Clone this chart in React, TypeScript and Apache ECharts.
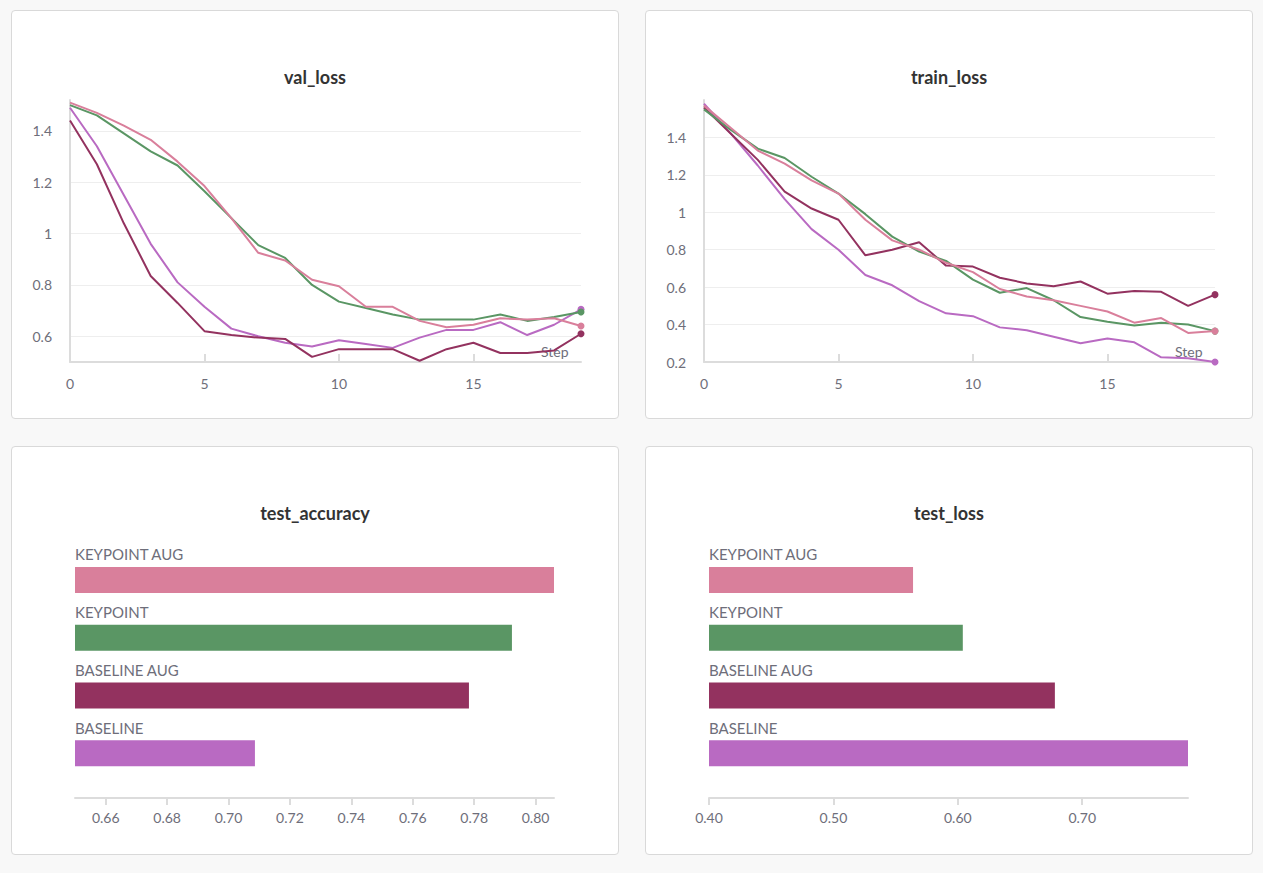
import * as echarts from "echarts";
import { useEffect, useRef } from "react";

const steps = Array.from({ length: 20 }, (_, i) => i);

const runNames = ["keypoint aug", "keypoint", "baseline aug", "baseline"];
const runColors = ["#d97f9b", "#5a9664", "#93325f", "#b96ac2"];

const valKeypointAug = [1.51, 1.47, 1.42, 1.365, 1.28, 1.185, 1.06, 0.925, 0.895, 0.82, 0.795, 0.715, 0.715, 0.66, 0.635, 0.645, 0.67, 0.665, 0.67, 0.64];
const valKeypoint = [1.5, 1.46, 1.39, 1.32, 1.265, 1.165, 1.06, 0.955, 0.905, 0.8, 0.735, 0.71, 0.685, 0.665, 0.665, 0.665, 0.685, 0.66, 0.675, 0.695];
const valBaselineAug = [1.44, 1.27, 1.04, 0.835, 0.73, 0.62, 0.605, 0.595, 0.59, 0.52, 0.55, 0.55, 0.55, 0.505, 0.55, 0.575, 0.535, 0.535, 0.545, 0.61];
const valBaseline = [1.49, 1.34, 1.15, 0.96, 0.81, 0.715, 0.63, 0.6, 0.575, 0.56, 0.585, 0.57, 0.555, 0.595, 0.625, 0.625, 0.655, 0.605, 0.645, 0.705];

const trainKeypointAug = [1.57, 1.45, 1.33, 1.26, 1.17, 1.1, 0.96, 0.85, 0.8, 0.73, 0.68, 0.59, 0.55, 0.53, 0.5, 0.47, 0.41, 0.435, 0.355, 0.365];
const trainKeypoint = [1.55, 1.44, 1.34, 1.29, 1.19, 1.1, 0.99, 0.87, 0.79, 0.74, 0.64, 0.57, 0.595, 0.53, 0.44, 0.415, 0.395, 0.41, 0.4, 0.365];
const trainBaselineAug = [1.56, 1.42, 1.28, 1.11, 1.02, 0.96, 0.77, 0.8, 0.84, 0.715, 0.71, 0.65, 0.62, 0.605, 0.63, 0.565, 0.58, 0.575, 0.5, 0.56];
const trainBaseline = [1.58, 1.42, 1.25, 1.07, 0.91, 0.8, 0.665, 0.61, 0.525, 0.46, 0.445, 0.385, 0.37, 0.335, 0.3, 0.325, 0.305, 0.225, 0.22, 0.2];

const barLabels = ["KEYPOINT AUG", "KEYPOINT", "BASELINE AUG", "BASELINE"];
const testAccuracy = [0.806, 0.7923, 0.7783, 0.7086];
const testLoss = [0.564, 0.604, 0.678, 0.785];
const accuracyTicks = [0.66, 0.68, 0.7, 0.72, 0.74, 0.76, 0.78, 0.8];

const FONT = "Lato, 'Open Sans', sans-serif";
const MUTED = "#6e6e7a";
const AXIS = "#dcdcdc";
const GRID = "#eeeeee";

function Chart({ option, style }: { option: any; style: React.CSSProperties }) {
  const ref = useRef<HTMLDivElement>(null);
  useEffect(() => {
    const el = ref.current;
    if (!el) return;
    const chart = echarts.init(el, undefined, { renderer: "svg" });
    chart.setOption(option);
    return () => chart.dispose();
  }, [option]);
  return (
    <div
      style={{
        position: "absolute",
        width: 606,
        height: 407,
        background: "#fff",
        border: "1px solid #d9d9d9",
        borderRadius: 4,
        ...style,
      }}
    >
      <div ref={ref} style={{ width: 606, height: 407 }} />
    </div>
  );
}

const title = (text: string) => ({
  text,
  left: "center",
  top: 52,
  textStyle: { fontFamily: FONT, fontSize: 18, fontWeight: "bold", color: "#333" },
});

function lineOption(name: string, series: number[][], y: any) {
  return {
    animation: false,
    textStyle: { fontFamily: FONT },
    title: title(name),
    grid: { left: 58, right: 37, top: 89, bottom: 56 },
    xAxis: {
      type: "value",
      min: 0,
      max: 19,
      interval: 5,
      name: "Step",
      nameLocation: "end",
      nameGap: -40,
      nameTextStyle: { color: MUTED, fontSize: 14, verticalAlign: "bottom", padding: [0, 0, 4, 0] },
      axisLine: { lineStyle: { color: AXIS, width: 2 } },
      axisTick: { inside: true, length: 8, lineStyle: { color: AXIS, width: 2 } },
      axisLabel: { color: MUTED, fontSize: 14, margin: 14, showMaxLabel: false },
      splitLine: { show: false },
    },
    yAxis: {
      type: "value",
      ...y,
      axisLine: { show: true, lineStyle: { color: AXIS, width: 2 } },
      axisTick: { show: false },
    },
    series: series.map((d, i) => ({
      type: "line",
      name: runNames[i],
      data: steps.map((s) => [s, d[s]]),
      symbol: "circle",
      showSymbol: true,
      symbolSize: (_v: any, p: any) => (p.dataIndex === steps.length - 1 ? 7 : 0),
      lineStyle: { color: runColors[i], width: 2 },
      itemStyle: { color: runColors[i] },
      z: 10 - i,
    })),
  };
}

const valOption = lineOption("val_loss", [valKeypointAug, valKeypoint, valBaselineAug, valBaseline], {
  min: 0.5,
  max: 1.52,
  interval: 0.1,
  axisLabel: {
    color: MUTED,
    fontSize: 14,
    margin: 18,
    showMaxLabel: false,
    formatter: (v: number) => (Math.round(v * 10) % 2 === 0 ? String(+v.toFixed(1)) : ""),
  },
  splitLine: { showMaxLine: false, lineStyle: { color: ["transparent", GRID] } },
});

const trainOption = lineOption("train_loss", [trainKeypointAug, trainKeypoint, trainBaselineAug, trainBaseline], {
  min: 0.2,
  max: 1.6,
  interval: 0.2,
  axisLabel: { color: MUTED, fontSize: 14, margin: 18, showMaxLabel: false, formatter: (v: number) => String(+v.toFixed(1)) },
  splitLine: { showMaxLine: false, showMinLine: false, lineStyle: { color: GRID } },
});

function barOption(name: string, values: number[], x: any) {
  return {
    animation: false,
    textStyle: { fontFamily: FONT },
    title: title(name),
    grid: { left: 63, right: 64, top: 104, bottom: 72 },
    xAxis: {
      type: "value",
      offset: 16,
      ...x,
      axisLine: { show: true, lineStyle: { color: AXIS, width: 2 } },
      axisTick: { show: true, length: 7, lineStyle: { color: AXIS, width: 2 }, ...(x.ticks ? { customValues: x.ticks } : {}) },
      splitLine: { show: false },
    },
    yAxis: {
      type: "category",
      inverse: true,
      data: barLabels,
      show: false,
    },
    series: [
      {
        type: "bar",
        data: values.map((v, i) => ({ value: v, itemStyle: { color: runColors[i] } })),
        barWidth: 26,
        label: {
          show: true,
          position: [0, -20],
          formatter: (p: any) => p.name,
          color: MUTED,
          fontSize: 15,
          fontFamily: FONT,
        },
      },
    ],
  };
}

const accOption = barOption("test_accuracy", testAccuracy, {
  min: 0.65,
  max: 0.806,
  ticks: accuracyTicks,
  axisLabel: { color: MUTED, fontSize: 14, margin: 12, customValues: accuracyTicks, formatter: (v: number) => v.toFixed(2) },
});

const lossOption = barOption("test_loss", testLoss, {
  min: 0.4,
  max: 0.785,
  interval: 0.1,
  axisLabel: { color: MUTED, fontSize: 14, margin: 12, showMaxLabel: false, formatter: (v: number) => v.toFixed(2) },
});

export default function App() {
  return (
    <div style={{ position: "fixed", left: 0, top: 0, width: 1263, height: 873, background: "#f8f8f8" }}>
      <Chart option={valOption} style={{ left: 11, top: 10 }} />
      <Chart option={trainOption} style={{ left: 645, top: 10 }} />
      <Chart option={accOption} style={{ left: 11, top: 446 }} />
      <Chart option={lossOption} style={{ left: 645, top: 446 }} />
    </div>
  );
}
